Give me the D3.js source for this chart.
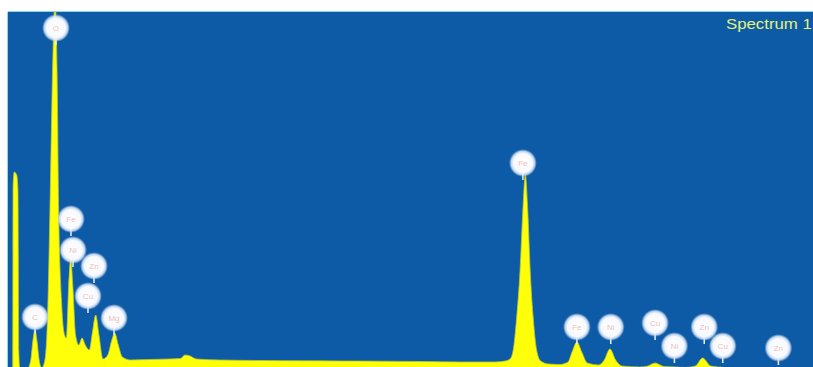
<!DOCTYPE html>
<html>
<head>
<meta charset="utf-8">
<script src="https://cdn.jsdelivr.net/npm/d3@7"></script>
<style>
  html, body { margin: 0; padding: 0; background: #ffffff; overflow: hidden; }
  svg { display: block; }
</style>
</head>
<body>
<svg id="chart" width="813" height="367"></svg>
<script>
// EDS spectrum: energy (keV) and counts
const energies = [
  -0.06, 0.00, 0.005, 0.02, 0.05, 0.065, 0.075, 0.09, 0.17, 0.22, 0.255, 0.277, 0.30, 0.33, 0.36,
  0.40, 0.435, 0.462, 0.495, 0.525, 0.55, 0.57, 0.605, 0.635, 0.665, 0.695, 0.72, 0.745, 0.78,
  0.82, 0.86, 0.90, 0.95, 0.99, 1.03, 1.07, 1.12, 1.18, 1.23, 1.265, 1.31, 1.36, 1.46, 1.70,
  1.95, 2.08, 2.14, 2.20, 2.28, 2.57, 3.07, 3.57, 4.06, 4.56, 5.05, 5.55, 5.98, 6.11, 6.17,
  6.21, 6.25, 6.295, 6.33, 6.36, 6.39, 6.42, 6.46, 6.50, 6.55, 6.65, 6.79, 6.89, 6.94, 7.00,
  7.06, 7.13, 7.27, 7.34, 7.41, 7.48, 7.56, 7.78, 7.88, 7.97, 8.08, 8.22, 8.34, 8.47, 8.56,
  8.66, 8.84, 9.27, 9.52, 9.93, 10.0
];
const counts = [
  0, 0, 1850, 1980, 1950, 1800, 200, 0, 0, 80, 320, 400, 300, 90, 20,
  100, 600, 1600, 3000, 3700, 3000, 1600, 700, 380, 320, 850, 1120, 850, 350,
  250, 320, 250, 200, 380, 550, 350, 110, 150, 300, 370, 250, 130, 100, 105,
  110, 115, 150, 140, 110, 100, 95, 92, 90, 88, 85, 80, 80, 90, 110,
  200, 500, 1000, 1600, 1950, 1600, 1000, 500, 200, 90, 60, 55, 80, 180, 280,
  180, 70, 50, 100, 210, 100, 40, 30, 40, 70, 35, 30, 25, 40, 120,
  40, 25, 15, 20, 10, 10
];

// Element markers: symbol, energy (keV) and marker height (counts)
const peakLabels    = ["O", "C", "Fe", "Ni", "Zn", "Cu", "Mg", "Fe", "Fe", "Ni", "Cu", "Ni", "Zn", "Cu", "Zn"];
const labelEnergies = [0.537, 0.277, 0.723, 0.748, 1.009, 0.934, 1.257, 6.33, 7.00, 7.42, 7.97, 8.21, 8.58, 8.81, 9.50];
const labelCounts   = [3420, 530, 1510, 1200, 1040, 740, 520, 2070, 430, 430, 470, 240, 430, 240, 220];

const spectrumTitle = "Spectrum 1";

const W = 813, H = 367;
const plot = { left: 8, top: 12, right: 813, bottom: 367 };

const svg = d3.select("#chart");

const x = d3.scaleLinear().domain([0, 10]).range([12.7, 818.7]);
const y = d3.scaleLinear().domain([0, 3580]).range([370, 12]);

const defs = svg.append("defs");
defs.append("clipPath").attr("id", "plotClip")
  .append("rect")
  .attr("x", plot.left).attr("y", plot.top)
  .attr("width", plot.right - plot.left).attr("height", plot.bottom - plot.top);

const glow = defs.append("radialGradient").attr("id", "markerGlow");
glow.append("stop").attr("offset", "0%").attr("stop-color", "#ffffff").attr("stop-opacity", 1);
glow.append("stop").attr("offset", "68%").attr("stop-color", "#f6f9ff").attr("stop-opacity", 1);
glow.append("stop").attr("offset", "84%").attr("stop-color", "#dde9f8").attr("stop-opacity", 0.85);
glow.append("stop").attr("offset", "100%").attr("stop-color", "#a8c6ea").attr("stop-opacity", 0);

// page frame
svg.append("rect").attr("width", W).attr("height", H).attr("fill", "#ffffff");

// plot background
svg.append("rect")
  .attr("x", plot.left).attr("y", plot.top)
  .attr("width", plot.right - plot.left).attr("height", plot.bottom - plot.top)
  .attr("fill", "#0d5aa7");
svg.append("line")
  .attr("x1", plot.left).attr("x2", plot.right)
  .attr("y1", plot.top - 0.5).attr("y2", plot.top - 0.5)
  .attr("stroke", "#8ad8ec").attr("stroke-width", 1);
svg.append("line")
  .attr("x1", plot.left - 0.5).attr("x2", plot.left - 0.5)
  .attr("y1", plot.top).attr("y2", plot.bottom)
  .attr("stroke", "#8ad8ec").attr("stroke-width", 1);

const spectrum = energies.map((e, i) => ({ e, c: counts[i] }));

const g = svg.append("g").attr("clip-path", "url(#plotClip)");

const area = d3.area()
  .x(d => x(d.e))
  .y0(y(0) + 5)
  .y1(d => y(d.c))
  .curve(d3.curveMonotoneX);

g.append("path")
  .datum(spectrum)
  .attr("d", area)
  .attr("fill", "#ffff0a")
  .attr("stroke", "#b8c830")
  .attr("stroke-width", 0.8)
  .attr("stroke-linejoin", "round");

// element markers
const markers = g.selectAll("g.marker")
  .data(peakLabels.map((s, i) => ({ s, e: labelEnergies[i], c: labelCounts[i] })))
  .join("g")
  .attr("class", "marker")
  .attr("transform", d => `translate(${x(d.e)},${y(d.c)})`);

markers.append("line")
  .attr("x1", 0).attr("x2", 0)
  .attr("y1", 8).attr("y2", 17)
  .attr("stroke", "#e6f0fa")
  .attr("stroke-width", 1.5);

markers.append("circle")
  .attr("r", 14)
  .attr("fill", "url(#markerGlow)");

markers.append("text")
  .attr("text-anchor", "middle")
  .attr("dy", "0.35em")
  .attr("font-family", "Liberation Sans, Arial, sans-serif")
  .attr("font-size", 8)
  .attr("fill", "#ecc0b8")
  .text(d => d.s);

// spectrum title
svg.append("text")
  .attr("transform", "translate(726,29) scale(1.2,1)")
  .attr("font-family", "Liberation Sans, Arial, sans-serif")
  .attr("font-size", 14)
  .attr("fill", "#e4f27a")
  .text(spectrumTitle);
</script>
</body>
</html>
